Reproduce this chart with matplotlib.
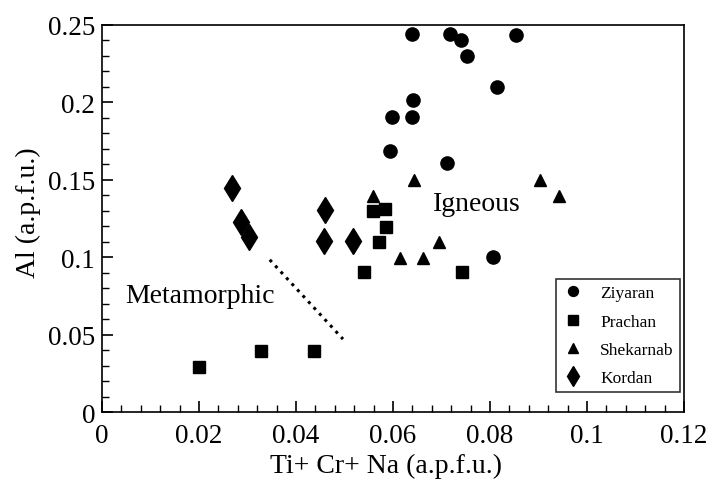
import matplotlib
matplotlib.use('Agg')
import matplotlib.pyplot as plt
from matplotlib.ticker import MultipleLocator

plt.rcParams['font.family'] = ['Liberation Serif', 'DejaVu Serif']

# Ziyaran (circles)
ziy_x = [0.0639, 0.0718, 0.0740, 0.0752, 0.0853, 0.0814, 0.0642, 0.0599, 0.0640, 0.0594, 0.0711, 0.0807]
ziy_y = [0.2442, 0.2442, 0.2405, 0.2298, 0.2435, 0.2098, 0.2016, 0.1904, 0.1904, 0.1688, 0.1607, 0.0999]
# Prachan (squares)
pra_x = [0.0559, 0.0584, 0.0585, 0.0571, 0.0540, 0.0201, 0.0327, 0.0438, 0.0742]
pra_y = [0.1300, 0.1311, 0.1193, 0.1096, 0.0906, 0.0293, 0.0392, 0.0392, 0.0906]
# Shekarnab (triangles)
she_x = [0.0558, 0.0643, 0.0903, 0.0943, 0.0695, 0.0614, 0.0661]
she_y = [0.1397, 0.1499, 0.1499, 0.1397, 0.1096, 0.0993, 0.0993]
# Kordan (diamonds)
kor_x = [0.0269, 0.0287, 0.0304, 0.0460, 0.0458, 0.0518]
kor_y = [0.1445, 0.1225, 0.1134, 0.1305, 0.1105, 0.1105]

# dotted boundary line
line_x = [0.0346, 0.0497]
line_y = [0.0984, 0.0472]

fig, ax = plt.subplots(figsize=(7.08, 4.81), dpi=100)
fig.subplots_adjust(left=0.144, right=0.966, top=0.946, bottom=0.141)

ax.plot(ziy_x, ziy_y, 'o', color='black', markersize=9.5, label='Ziyaran', clip_on=False)
ax.plot(pra_x, pra_y, 's', color='black', markersize=9, label='Prachan')
ax.plot(she_x, she_y, '^', color='black', markersize=9, label='Shekarnab')
ax.plot(kor_x, kor_y, 'd', color='black', markersize=13, label='Kordan')
ax.plot(line_x, line_y, ':', color='black', linewidth=2.2)

ax.text(0.0047, 0.0753, 'Metamorphic', fontsize=20, va='center', ha='left')
ax.text(0.0683, 0.135, 'Igneous', fontsize=20, va='center', ha='left')

ax.set_xlim(0, 0.12)
ax.set_ylim(0, 0.25)
ax.xaxis.set_minor_locator(MultipleLocator(0.004))
ax.yaxis.set_minor_locator(MultipleLocator(0.01))
ax.set_xticks([0, 0.02, 0.04, 0.06, 0.08, 0.1, 0.12])
ax.set_xticklabels(['0', '0.02', '0.04', '0.06', '0.08', '0.1', '0.12'])
ax.set_yticks([0, 0.05, 0.1, 0.15, 0.2, 0.25])
ax.set_yticklabels(['0', '0.05', '0.1', '0.15', '0.2', '0.25'])
ax.tick_params(which='major', direction='in', length=8, width=1.2, labelsize=19.5)
ax.tick_params(axis='x', which='major', pad=8)
ax.tick_params(axis='y', which='major', pad=5)
ax.tick_params(which='minor', direction='in', length=5, width=1)
for s in ax.spines.values():
    s.set_linewidth(1.2)

ax.set_xlabel('Ti+ Cr+ Na (a.p.f.u.)', fontsize=20)
ax.set_ylabel('Al (a.p.f.u.)', fontsize=20)
ax.xaxis.set_label_coords(0.488, -0.105)
ax.yaxis.set_label_coords(-0.105, 0.519)

leg = ax.legend(loc='lower right', fontsize=12.5, frameon=True, fancybox=False,
                edgecolor='black', markerscale=0.75, handlelength=1.2,
                labelspacing=0.7, borderpad=0.35, handletextpad=1.0,
                borderaxespad=0, bbox_to_anchor=(0.993, 0.051))
leg.get_frame().set_linewidth(1.2)

fig.savefig('out.png', dpi=100)
